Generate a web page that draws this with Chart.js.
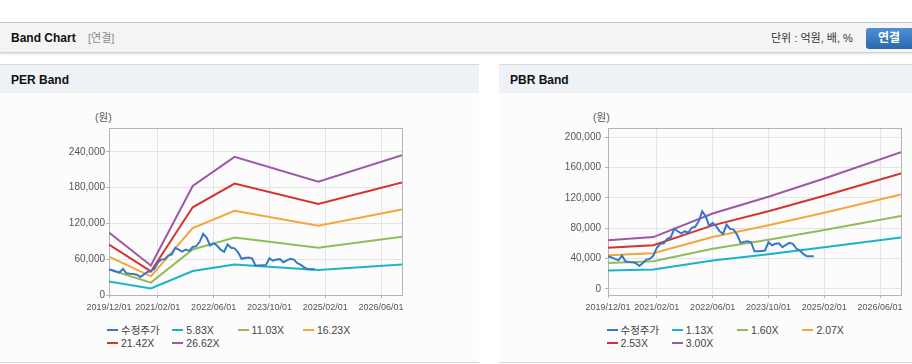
<!DOCTYPE html>
<html><head><meta charset="utf-8">
<script src="https://cdn.jsdelivr.net/npm/chart.js@4.4.1/dist/chart.umd.min.js"></script>
<style>
html,body{margin:0;padding:0}
body{width:912px;height:364px;background:#fff;position:relative;overflow:hidden;font-family:"Liberation Sans",Arial,"Noto Sans CJK KR",sans-serif;color:#222}
.abs{position:absolute}
#topbar{left:0;top:22px;width:912px;height:29px;background:#f4f4f4;border-top:1px solid #c4c4c4;border-bottom:1px solid #d2d2d2;box-shadow:0 1px 2px rgba(0,0,0,.14)}
#title{left:11px;top:30px;font-size:12px;font-weight:bold;color:#111;line-height:16px}
#conn{left:88px;top:31px;font-size:11px;color:#8a8a8a;line-height:15px}
#unit{left:771px;top:31px;font-size:11px;color:#333;line-height:15px}
#btn{left:866px;top:28px;width:46px;height:21px;border-radius:3px 0 0 3px;background:linear-gradient(#4d8fd4,#2b68ae);color:#fff;font-size:12px;font-weight:bold;text-align:center;line-height:21px}
.panel{top:64px;height:297px;background:#fcfcfc;border-top:1px solid #d8d8d8;border-bottom:1px solid #d8d8d8}
.phead{left:0;top:0;right:0;height:28px;background:#eef2f7}
.ptitle{left:11px;top:8px;font-size:12px;font-weight:bold;color:#111;line-height:14px}
.unitlbl{font-size:10.5px;color:#555;line-height:12px}
.lg{font-size:10.5px;color:#444;line-height:12px;white-space:nowrap}
.lg i{display:inline-block;width:11px;height:2px;vertical-align:middle;margin-right:3px;position:relative;top:-1px}
canvas{position:absolute}
</style></head>
<body>
<div id="topbar" class="abs"></div>
<div id="title" class="abs">Band Chart</div>
<div id="conn" class="abs">[연결]</div>
<div id="unit" class="abs">단위 : 억원, 배, %</div>
<div id="btn" class="abs">연결</div>

<div id="perPanel" class="abs panel" style="left:0;width:479px"><div class="abs phead"><div class="abs ptitle">PER Band</div></div></div>
<div id="pbrPanel" class="abs panel" style="left:499px;width:413px"><div class="abs phead"><div class="abs ptitle">PBR Band</div></div></div>

<div class="abs unitlbl" style="left:95px;top:111px">(원)</div>
<div class="abs unitlbl" style="left:593px;top:111px">(원)</div>

<canvas id="per" width="380" height="215" style="left:40px;top:100px"></canvas>
<canvas id="pbr" width="382" height="215" style="left:530px;top:100px"></canvas>
<div id="perLegend"></div>
<div id="pbrLegend"></div>

<script>
// ---- data ----
const xTickLabels = ['2019/12/01','2021/02/01','2022/06/01','2023/10/01','2025/02/01','2026/06/01'];
const xTickMonths = [0,14,30,46,62,78];   // months since 2019/12
const perYTicks = [0,60000,120000,180000,240000];
const pbrYTicks = [0,40000,80000,120000,160000,200000];

// 수정주가 (monthly, from 2019/12)
const price = [43000,41500,39500,37700,43900,36400,35500,35100,34000,30300,
  34300,38600,39600,43900,54100,59400,60100,66000,68100,79100,
  76000,72900,76000,73900,80500,81800,89200,102400,95800,83000,
  87000,82600,76000,72500,84800,79100,78200,71600,60700,62000,
  62800,61500,49600,49600,50000,50500,61500,57500,59400,60100,
  54900,58000,60700,59400,53200,50500,46200,43000,43000,43000];

const perMonths = [0,12,24,36,60,84];
const perLabels = ['5.83X','11.03X','16.23X','21.42X','26.62X'];
const per583  = [22800,11000,40300,51200,42000,51300];
const per1103 = [42800,20800,76300,96200,79200,97600];
const per1623 = [64200,31200,112200,141100,116100,143300];
const per2142 = [84700,39500,147000,186800,152600,188800];
const per2662 = [104700,49600,182700,231700,190000,234500];

const pbrMonths = [0,13,30,46,62,84];
const pbrLabels = ['1.13X','1.60X','2.07X','2.53X','3.00X'];
const pbr113 = [24200,25700,37400,45700,54800,67900];
const pbr160 = [34200,36400,53000,64800,77600,96100];
const pbr207 = [44300,47100,68500,83800,100400,124300];
const pbr253 = [54100,57600,83700,102400,122700,152000];
const pbr300 = [64200,68300,99300,121400,145500,180200];

const priceLabel = '수정주가';
const colors = ['#3777c9','#1bb3c7','#8fbd59','#f5a63a','#d6322f','#9b59a6'];

// ---- build ----
const FONT = '"Liberation Sans", Arial, "Noto Sans CJK KR", sans-serif';
function pts(months, vals){ return vals.map((v,i)=>({x:months[i], y:v})); }
function datasets(bandLabels, months, bands){
  const ds = [{label:priceLabel, data: price.map((v,i)=>({x:i,y:v})), borderColor:colors[0]}];
  bands.forEach((b,i)=>ds.push({label:bandLabels[i], data:pts(months,b), borderColor:colors[i+1]}));
  return ds;
}
const framePlugin = {
  id:'frame',
  beforeDatasetsDraw(chart){
    const a = chart.chartArea, c = chart.ctx;
    c.save(); c.strokeStyle = '#b4b4b4'; c.lineWidth = 1;
    c.strokeRect(Math.round(a.left)+0.5, Math.round(a.top)+0.5, Math.round(a.right-a.left), Math.round(a.bottom-a.top));
    c.restore();
  }
};
function makeChart(id, ds, yMin, yMax, yTicks, yWidth, yPad, rightPad){
  return new Chart(document.getElementById(id), {
    type:'line',
    data:{datasets:ds},
    plugins:[framePlugin],
    options:{
      responsive:false, animation:false,
      layout:{padding:{left:0,right:rightPad,top:28,bottom:0}},
      plugins:{legend:{display:false}, tooltip:{enabled:false}},
      elements:{point:{radius:0}, line:{borderWidth:2, tension:0, fill:false}},
      scales:{
        x:{type:'linear', min:0, max:84,
          afterBuildTicks:s=>{ s.ticks = xTickMonths.map(v=>({value:v})); },
          afterFit:s=>{ s.height = 20; },
          ticks:{autoSkip:false, maxRotation:0, padding:4, color:'#555', font:{size:9, family:FONT},
            callback:(v)=>{ const k = xTickMonths.indexOf(v); return k>=0 ? xTickLabels[k] : ''; }},
          grid:{color:'#e4e4e4', tickLength:3, tickColor:'#b4b4b4'},
          border:{color:'#a8a8a8'}
        },
        y:{min:yMin, max:yMax,
          afterBuildTicks:s=>{ s.ticks = yTicks.map(v=>({value:v})); },
          afterFit:s=>{ s.width = yWidth; },
          ticks:{padding:yPad, color:'#555', font:{size:10, family:FONT},
            callback:(v)=> Number(v).toLocaleString('en-US')},
          grid:{color:'#e4e4e4', tickLength:3, tickColor:'#b4b4b4'},
          border:{color:'#a8a8a8'}
        }
      }
    }
  });
}
const perChart = makeChart('per', datasets(perLabels, perMonths, [per583,per1103,per1623,per2142,per2662]), 0, 280000, perYTicks, 69, 1, 18);
const pbrChart = makeChart('pbr', datasets(pbrLabels, pbrMonths, [pbr113,pbr160,pbr207,pbr253,pbr300]), -8000, 212000, pbrYTicks, 78, 4, 11);

function buildLegend(el, chart, left){
  chart.data.datasets.forEach((d,i)=>{
    const item = document.createElement('div');
    item.className = 'abs lg';
    item.style.left = (left + (i%4)*65.3) + 'px';
    item.style.top = (324 + Math.floor(i/4)*13) + 'px';
    item.innerHTML = '<i style="background:'+d.borderColor+'"></i>' + d.label;
    el.appendChild(item);
  });
}
buildLegend(document.getElementById('perLegend'), perChart, 107);
buildLegend(document.getElementById('pbrLegend'), pbrChart, 606.5);
</script>
</body></html>
